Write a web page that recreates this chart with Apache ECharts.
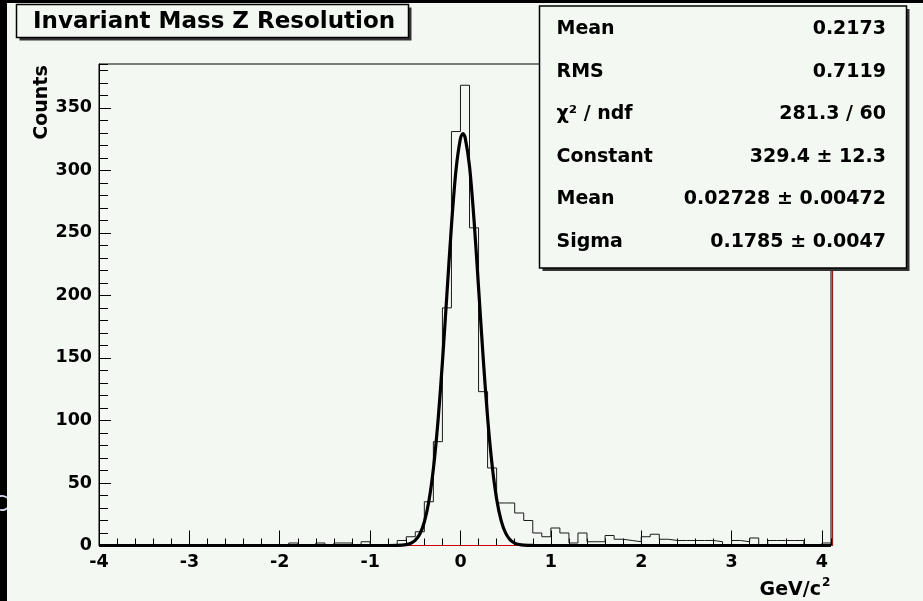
<!DOCTYPE html>
<html><head><meta charset="utf-8">
<script src="https://cdn.jsdelivr.net/npm/echarts@6/dist/echarts.min.js"></script>
<style>html,body{margin:0;padding:0;background:#f3f8f3;}#c{width:923px;height:601px;}</style>
</head><body><div id="c"></div>
<script>
// ---------- data ----------
const titleText = 'Invariant Mass Z Resolution';
const xAxisTitle = 'GeV/c';
const xAxisTitleSup = '2';
const yAxisTitle = 'Counts';
const xMin = -4, xMax = 4.1, binWidth = 0.1;
const yMin = 0, yMax = 385;
// histogram bin contents, bins of 0.1 starting at -4.0
const counts = [
  0,0,0,0,0,0,0,0,0,0,      // -4.0 .. -3.1
  0,0,0,0,0,0,0,0,0,0,      // -3.0 .. -2.1
  0,2,0,0,2,0,2,2,0,3,      // -2.0 .. -1.1
  0,0,0,4,7,11,35,83,190,331, // -1.0 .. -0.1
  368,254,123,62,34,34,26,20,10,7, // 0.0 .. 0.9
  14,10,2,10,3,3,8,5,4,3,   // 1.0 .. 1.9
  7,9,5,4,4,4,4,4,3,0,      // 2.0 .. 2.9
  4,3,6,0,4,4,4,4,0,0,      // 3.0 .. 3.9
  2                         // 4.0
];
// Gaussian fit curve
const fitX = [-4, -1.0, -0.8, -0.7, -0.6, -0.55, -0.5, -0.45, -0.4, -0.35, -0.3, -0.25, -0.2, -0.15, -0.1, -0.05, 0.0, 0.027, 0.05, 0.1, 0.15, 0.2, 0.25, 0.3, 0.35, 0.4, 0.45, 0.5, 0.55, 0.6, 0.65, 0.7, 0.8, 1.0, 4.1];
const fitY = [0, 0, 0.01, 0.08, 0.7, 1.8, 4.2, 9.2, 18.8, 35.3, 61.3, 98.5, 146.4, 201.1, 255.5, 299.9, 325.6, 329.4, 326.7, 303.2, 260.1, 206.2, 151.2, 102.5, 64.3, 37.2, 19.9, 9.9, 4.5, 1.9, 0.75, 0.27, 0.03, 0, 0];
const statLabels = ['Mean', 'RMS', 'χ² / ndf', 'Constant', 'Mean', 'Sigma'];
const statValues = ['0.2173', '0.7119', '281.3 / 60', '329.4 ± 12.3', '0.02728 ± 0.00472', '0.1785 ± 0.0047'];

// ---------- build ----------
const histData = counts.map((c, i) => [+(xMin + i * binWidth).toFixed(2), c]);
histData.push([xMax, counts[counts.length - 1]]);
const fitData = fitX.map((x, i) => [x, fitY[i]]);

const FONT = '"DejaVu Sans", sans-serif';
const BG = '#f3f8f3';
const chart = echarts.init(document.getElementById('c'), null, {renderer: 'canvas'});

const graphics = [];
// title box
graphics.push({type: 'rect', z: 10, shape: {x: 19.5, y: 7.5, width: 392, height: 33}, style: {fill: '#333'}});
graphics.push({type: 'rect', z: 11, shape: {x: 16.5, y: 4.5, width: 392, height: 33}, style: {fill: BG, stroke: '#000', lineWidth: 1.5}});
graphics.push({type: 'text', z: 12, x: 33, y: 22.5, style: {text: titleText, font: 'bold 23px ' + FONT, fill: '#000', align: 'left', verticalAlign: 'middle', textAlign: 'left', textVerticalAlign: 'middle'}});
// stats box
graphics.push({type: 'rect', z: 10, shape: {x: 542.5, y: 9, width: 367, height: 262}, style: {fill: '#333'}});
graphics.push({type: 'rect', z: 11, shape: {x: 539.5, y: 6, width: 367, height: 262}, style: {fill: BG, stroke: '#000', lineWidth: 1.5}});
statLabels.forEach((lab, k) => {
  const yy = 29 + 42.6 * k;
  graphics.push({type: 'text', z: 12, x: 556.5, y: yy, style: {text: lab, font: 'bold 19px ' + FONT, fill: '#000', align: 'left', verticalAlign: 'middle', textAlign: 'left', textVerticalAlign: 'middle'}});
  graphics.push({type: 'text', z: 12, x: 886, y: yy, style: {text: statValues[k], font: 'bold 19px ' + FONT, fill: '#000', align: 'right', verticalAlign: 'middle', textAlign: 'right', textVerticalAlign: 'middle'}});
});
// axis titles
graphics.push({type: 'text', z: 12, x: 42.5, y: 102.5, rotation: Math.PI / 2, style: {text: yAxisTitle, font: 'bold 19px ' + FONT, fill: '#000', align: 'center', verticalAlign: 'middle', textAlign: 'center', textVerticalAlign: 'middle'}});
graphics.push({type: 'text', z: 12, x: 821, y: 590, style: {text: xAxisTitle, font: 'bold 19px ' + FONT, fill: '#000', align: 'right', verticalAlign: 'middle', textAlign: 'right', textVerticalAlign: 'middle'}});
graphics.push({type: 'text', z: 12, x: 822, y: 583, style: {text: xAxisTitleSup, font: 'bold 12px ' + FONT, fill: '#000', align: 'left', verticalAlign: 'middle', textAlign: 'left', textVerticalAlign: 'middle'}});
// dark border strips of the photo
graphics.push({type: 'rect', z: 20, shape: {x: 0, y: 0, width: 7, height: 601}, style: {fill: '#000'}});
graphics.push({type: 'rect', z: 20, shape: {x: 0, y: 0, width: 923, height: 3}, style: {fill: '#000'}});
graphics.push({type: 'text', z: 21, x: 8, y: 505, style: {text: 'C', font: '22px ' + FONT, fill: '#d6dcf2', align: 'right', verticalAlign: 'middle', textAlign: 'right', textVerticalAlign: 'middle'}});

const labelStyle = {fontFamily: FONT, fontWeight: 'bold', fontSize: 17.5, color: '#000'};

chart.setOption({
  animation: false,
  backgroundColor: BG,
  grid: {left: 99, top: 64, right: 92, bottom: 55.5, show: true, borderColor: '#000', borderWidth: 1, backgroundColor: 'transparent'},
  xAxis: [
    {type: 'value', min: xMin, max: xMax, interval: 1, position: 'bottom',
     axisLine: {show: true, onZero: false, lineStyle: {color: '#d00000', width: 1}},
     axisTick: {show: true, inside: true, length: 15, lineStyle: {color: '#000', width: 1}},
     axisLabel: Object.assign({show: true, margin: 8, showMaxLabel: false, showMinLabel: true}, labelStyle),
     splitLine: {show: false}},
    {type: 'value', min: xMin, max: xMax, interval: 0.2, position: 'bottom', offset: 0,
     axisLine: {show: false, onZero: false}, axisTick: {show: true, inside: true, length: 7, lineStyle: {color: '#000', width: 1}},
     axisLabel: {show: false}, splitLine: {show: false}}
  ],
  yAxis: [
    {type: 'value', min: yMin, max: yMax, interval: 50, position: 'left',
     axisLine: {show: true, onZero: false, lineStyle: {color: '#000', width: 1}},
     axisTick: {show: true, inside: true, length: 12, lineStyle: {color: '#000', width: 1}},
     axisLabel: Object.assign({show: true, margin: 7, showMaxLabel: false}, labelStyle),
     splitLine: {show: false}},
    {type: 'value', min: yMin, max: yMax, interval: 10, position: 'left', offset: 0,
     axisLine: {show: false, onZero: false}, axisTick: {show: true, inside: true, length: 9, lineStyle: {color: '#000', width: 1}},
     axisLabel: {show: false}, splitLine: {show: false}},
    {type: 'value', min: yMin, max: yMax, position: 'right', offset: 1,
     axisLine: {show: true, onZero: false, lineStyle: {color: '#d00000', width: 1.2}},
     axisTick: {show: false}, axisLabel: {show: false}, splitLine: {show: false}}
  ],
  series: [
    {type: 'line', name: 'hist', data: histData, step: 'end', symbol: 'none', xAxisIndex: 0, yAxisIndex: 0,
     lineStyle: {color: '#1a1a1a', width: 1}, z: 3, clip: false},
    {type: 'line', name: 'fit', data: fitData, smooth: 0.3, symbol: 'none', xAxisIndex: 0, yAxisIndex: 0,
     lineStyle: {color: '#000', width: 3.2}, z: 4, clip: false}
  ],
  graphic: {elements: graphics}
});
</script></body></html>
